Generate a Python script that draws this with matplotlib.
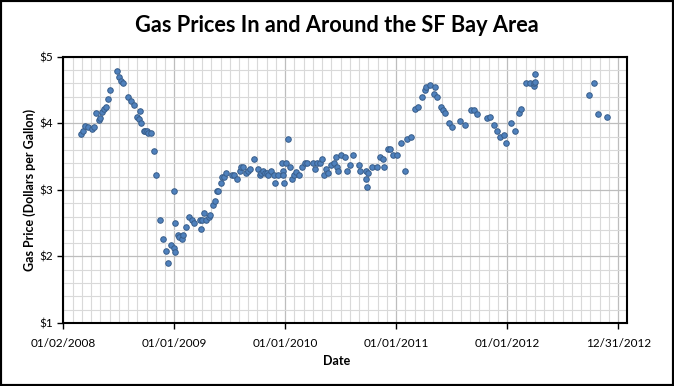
import numpy as np
import matplotlib
matplotlib.use("Agg")
import matplotlib.pyplot as plt
import matplotlib.dates as mdates
from matplotlib.ticker import MultipleLocator, FixedLocator, FuncFormatter
from matplotlib.patches import Rectangle

# days after 01/02/2008 and average price ($ per gallon)
days = [59, 65, 70, 82, 95, 102, 109, 116, 122, 128, 135, 141, 148, 155, 178, 184,
        191, 197, 214, 224, 233, 244, 248, 253, 257, 265, 270, 274, 278, 287, 299, 306,
        319, 329, 339, 345, 355, 365, 365, 369, 368, 376, 382, 391, 395, 404, 414, 423,
        430, 449, 453, 457, 464, 471, 480, 483, 493, 500, 506, 510, 519, 523, 529, 536,
        554, 562, 572, 580, 585, 592, 602, 608, 615, 628, 641, 648, 651, 658, 664, 671,
        674, 684, 694, 697, 707, 719, 721, 723, 727, 734, 740, 746, 753, 760, 766, 776,
        786, 796, 802, 822, 829, 835, 845, 852, 858, 865, 871, 881, 891, 898, 901, 904,
        914, 927, 934, 944, 954, 973, 977, 994, 996, 1000, 1003, 1016, 1033, 1042, 1052, 1056,
        1069, 1075, 1085, 1098, 1111, 1125, 1131, 1144, 1158, 1167, 1181, 1190, 1194, 1207, 1220, 1223,
        1230, 1243, 1250, 1256, 1269, 1279, 1305, 1322, 1342, 1352, 1362, 1394, 1404, 1417, 1427, 1437,
        1450, 1457, 1473, 1486, 1500, 1506, 1522, 1536, 1547, 1549, 1550, 1552, 1730, 1746, 1759, 1789]
price = [3.84, 3.88, 3.96, 3.94, 3.91, 3.95, 4.15, 4.05, 4.08, 4.17, 4.21, 4.24, 4.36, 4.50, 4.78, 4.69,
         4.64, 4.60, 4.39, 4.33, 4.27, 4.09, 4.06, 4.18, 4.00, 3.89, 3.89, 3.89, 3.85, 3.86, 3.59, 3.22,
         2.55, 2.27, 2.08, 1.90, 2.18, 2.99, 2.12, 2.06, 2.50, 2.33, 2.30, 2.26, 2.33, 2.44, 2.60, 2.55,
         2.51, 2.55, 2.42, 2.55, 2.66, 2.55, 2.60, 2.63, 2.78, 2.84, 2.99, 2.98, 3.10, 3.20, 3.20, 3.25,
         3.23, 3.23, 3.16, 3.28, 3.34, 3.34, 3.26, 3.29, 3.32, 3.46, 3.32, 3.22, 3.25, 3.28, 3.25, 3.26,
         3.22, 3.29, 3.23, 3.10, 3.23, 3.40, 3.29, 3.23, 3.11, 3.40, 3.76, 3.34, 3.16, 3.23, 3.27, 3.22,
         3.34, 3.41, 3.41, 3.41, 3.32, 3.40, 3.41, 3.47, 3.22, 3.32, 3.26, 3.38, 3.41, 3.49, 3.34, 3.29,
         3.52, 3.49, 3.29, 3.37, 3.52, 3.38, 3.29, 3.16, 3.29, 3.04, 3.26, 3.35, 3.34, 3.49, 3.47, 3.35,
         3.61, 3.61, 3.53, 3.52, 3.70, 3.29, 3.76, 3.79, 4.21, 4.24, 4.39, 4.50, 4.54, 4.57, 4.44, 4.54,
         4.39, 4.24, 4.20, 4.15, 4.00, 3.95, 4.03, 3.97, 4.20, 4.20, 4.14, 4.08, 4.09, 3.97, 3.89, 3.79,
         3.83, 3.71, 4.00, 3.88, 4.15, 4.21, 4.60, 4.60, 4.56, 4.60, 4.74, 4.62, 4.42, 4.60, 4.14, 4.09]

start = mdates.date2num(np.datetime64("2008-01-02"))
x = start + np.array(days)

fig = plt.figure(figsize=(6.74, 3.86), dpi=100)
plt.rcParams["font.family"] = ["Lato", "DejaVu Sans"]
ax = fig.add_axes([0.0939, 0.163, 0.8359, 0.6901])

ax.scatter(x, price, s=16, color="#4f81bd", edgecolors="#385d8a", linewidths=0.7, zorder=3)

ax.set_xlim(start, start + 1853)
ax.set_ylim(1, 5)
ax.xaxis.set_major_locator(FixedLocator(start + 365 * np.arange(6)))
ax.xaxis.set_minor_locator(FixedLocator(start + 365 / 12 * np.arange(61)))
ax.xaxis.set_major_formatter(mdates.DateFormatter("%m/%d/%Y"))
ax.yaxis.set_major_locator(MultipleLocator(1))
ax.yaxis.set_minor_locator(MultipleLocator(0.2))
ax.yaxis.set_major_formatter(FuncFormatter(lambda v, p: "${:.0f}".format(v)))

ax.grid(which="minor", color="#d9d9d9", linewidth=0.8)
ax.grid(which="major", color="#bdbdbd", linewidth=0.9)
ax.set_axisbelow(True)
ax.tick_params(which="major", length=4, width=1, labelsize=8.5, direction="out")
ax.tick_params(which="minor", length=0)
ax.tick_params(axis="x", pad=7)
for s in ax.spines.values():
    s.set_linewidth(1.5)
    s.set_color("black")

fig.text(0.5, 0.935, "Gas Prices In and Around the SF Bay Area", ha="center", va="center",
         fontsize=15.7, fontweight="bold")
fig.text(0.5, 0.064, "Date", ha="center", va="center", fontsize=9, fontweight="bold")
fig.text(30 / 674, 0.163 + 0.6901 / 2, "Gas Price (Dollars per Gallon)", ha="center", va="center",
         rotation=90, fontsize=9, fontweight="bold")

fig.patches.append(Rectangle((0, 0), 1, 1, transform=fig.transFigure, fill=False,
                             edgecolor="black", linewidth=3))

fig.savefig("out.png", dpi=100)
